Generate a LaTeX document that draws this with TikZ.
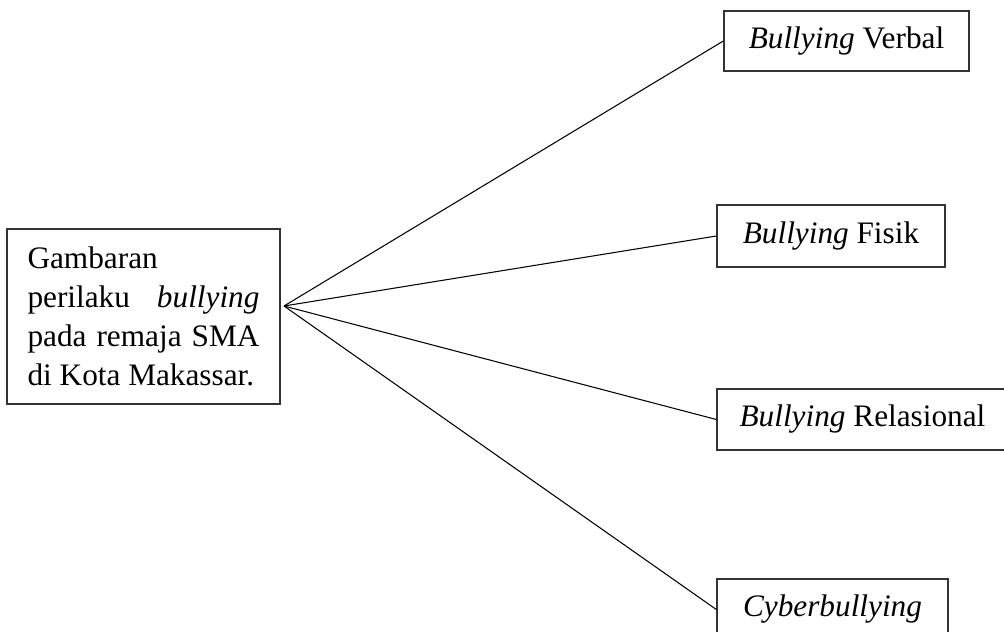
\documentclass[tikz,border=0pt]{standalone}
\usepackage{fontspec}
\setmainfont{Liberation Serif}

\begin{document}
\begin{tikzpicture}[x=0.02cm, y=-0.02cm,
	box/.style={draw=black!80, line width=0.8pt, inner sep=0pt, font=\fontsize{17.8}{22.1}\selectfont},
	link/.style={draw=black, line width=0.6pt}]
	\useasboundingbox (0,0) rectangle (1004,632);

	\node [box, minimum width=5.46cm, minimum height=3.5cm, text width=4.64cm, align=justify] (G) at (143.5,316.5)
		{Gambaran\newline perilaku \textit{bullying}\linebreak pada remaja SMA\linebreak di Kota Makassar.};
	\coordinate (hub) at (284,306);

	\node [box, minimum width=4.9cm, minimum height=1.2cm] (verbal) at (846.5,41) {\textit{Bullying} Verbal};
	\node [box, minimum width=4.56cm, minimum height=1.24cm] (fisik) at (831,236) {\textit{Bullying} Fisik};
	\node [box, minimum width=5.82cm, minimum height=1.22cm] (relasional) at (862.5,419.5) {\textit{Bullying} Relasional};
	\node [box, minimum width=4.62cm, minimum height=1.22cm] (cyber) at (832.5,609.5) {\textit{Cyberbullying}};

	\draw [link] (hub) to (verbal.west);
	\draw [link] (hub) to (fisik.west);
	\draw [link] (hub) to (relasional.west);
	\draw [link] (hub) to (cyber.west);
\end{tikzpicture}
\end{document}
